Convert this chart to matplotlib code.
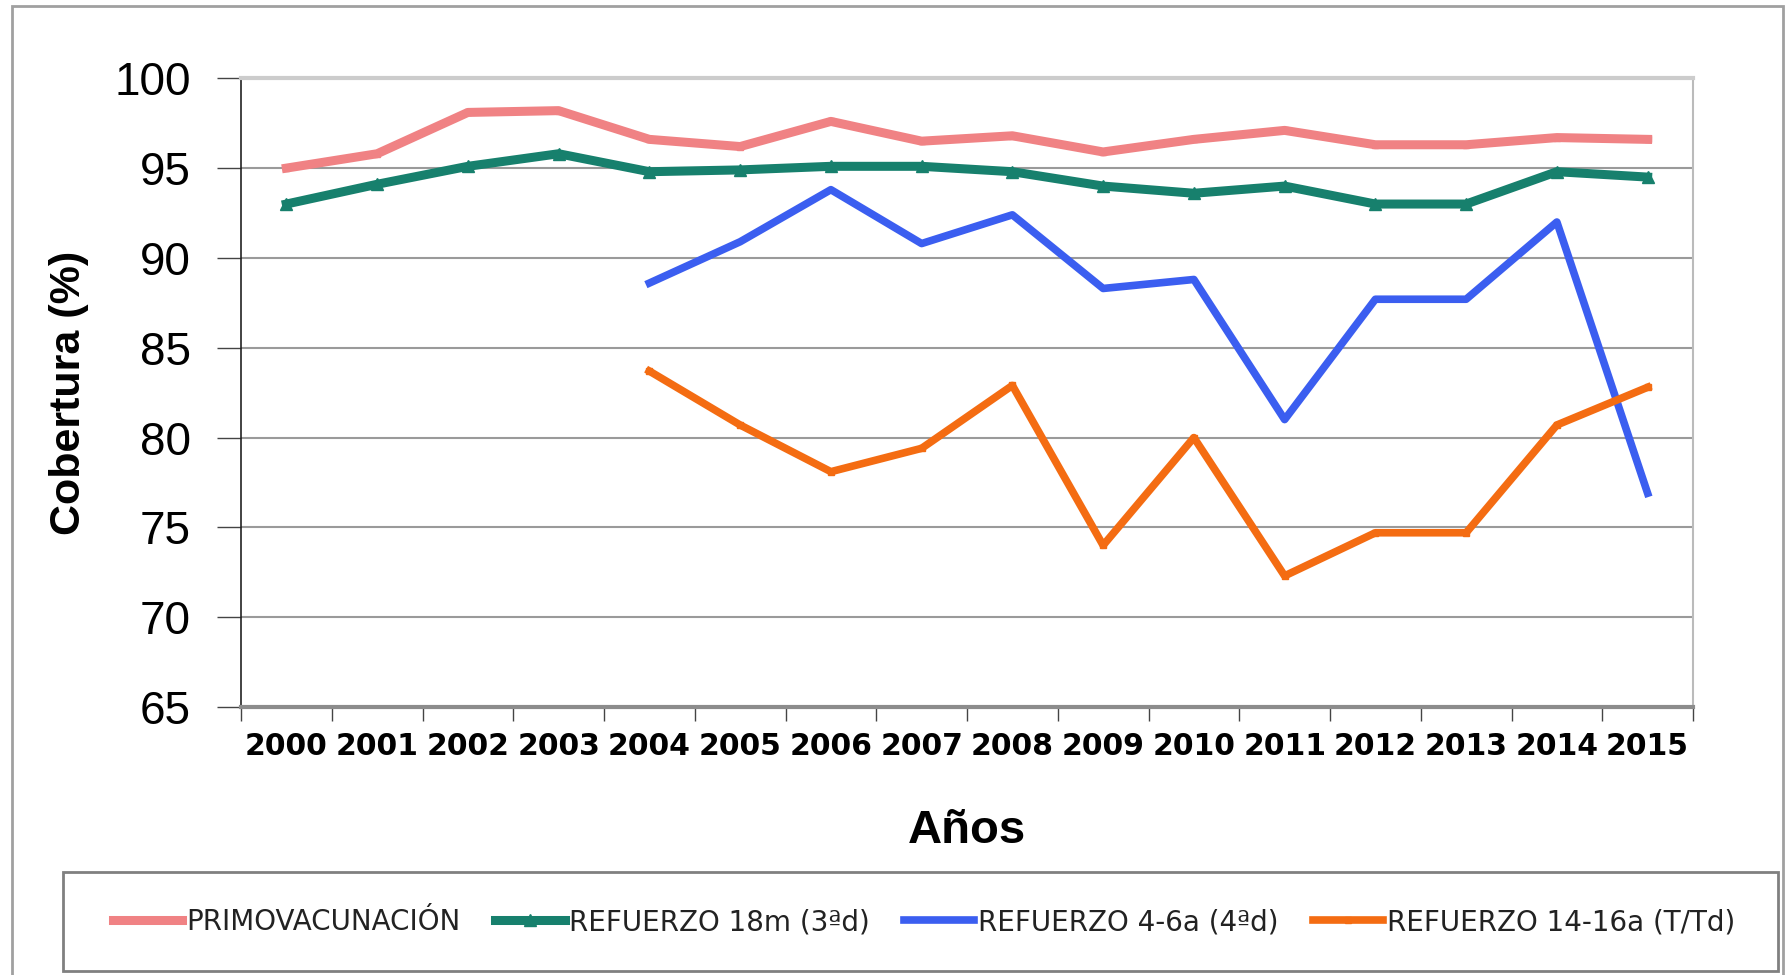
import matplotlib.pyplot as plt
from matplotlib.patches import Rectangle
import numpy as np

years = ['2000', '2001', '2002', '2003', '2004', '2005', '2006', '2007',
         '2008', '2009', '2010', '2011', '2012', '2013', '2014', '2015']
nan = np.nan
primo = [95.0, 95.8, 98.1, 98.2, 96.6, 96.2, 97.6, 96.5,
         96.8, 95.9, 96.6, 97.1, 96.3, 96.3, 96.7, 96.6]
ref18m = [93.0, 94.1, 95.1, 95.8, 94.8, 94.9, 95.1, 95.1,
          94.8, 94.0, 93.6, 94.0, 93.0, 93.0, 94.8, 94.5]
ref46a = [nan, nan, nan, nan, 88.6, 90.9, 93.8, 90.8,
          92.4, 88.3, 88.8, 81.0, 87.7, 87.7, 92.0, 76.9]
ref1416a = [nan, nan, nan, nan, 83.7, 80.7, 78.1, 79.4,
            82.9, 74.0, 80.0, 72.3, 74.7, 74.7, 80.7, 82.8]
labels = ['PRIMOVACUNACIÓN', 'REFUERZO 18m (3ªd)', 'REFUERZO 4-6a (4ªd)',
          'REFUERZO 14-16a (T/Td)']

x = np.arange(len(years))

fig = plt.figure(figsize=(17.87, 9.75), dpi=100)
ax = fig.add_axes([241 / 1787, 1 - 707 / 975, 1452 / 1787, (707 - 78.3) / 975])

ax.plot(x, primo, color='#F08284', lw=6.5, marker='s', ms=4, label=labels[0])
ax.plot(x, ref18m, color='#17806D', lw=6.5, marker='^', ms=8, label=labels[1])
ax.plot(x, ref46a, color='#3B5EF0', lw=5.5, label=labels[2])
ax.plot(x, ref1416a, color='#F46C12', lw=5.5, marker='s', ms=5, label=labels[3])

ax.set_xlim(-0.5, 15.5)
ax.set_ylim(65, 100)
ax.set_yticks(np.arange(65, 101, 5))
ax.set_xticks(x)
ax.set_xticks(np.arange(-0.5, 16, 1), minor=True)
ax.set_xticklabels(years, fontfamily='DejaVu Sans', fontweight='bold', fontsize=21.5)
ax.tick_params(axis='x', which='major', length=0, pad=18)
ax.tick_params(axis='x', which='minor', length=10, width=1, color='#444444')
ax.tick_params(axis='y', length=17, width=1, pad=19, labelsize=33, color='#444444')
for t in ax.get_yticklabels():
    t.set_fontfamily('Liberation Sans')

ax.grid(axis='y', color='#9a9a9a', lw=1.5)
ax.set_axisbelow(True)
ax.spines['top'].set_color('#cccccc')
ax.spines['top'].set_linewidth(3)
ax.spines['right'].set_color('#bbbbbb')
ax.spines['right'].set_linewidth(1.5)
ax.spines['left'].set_color('#222222')
ax.spines['left'].set_linewidth(1.2)
ax.spines['bottom'].set_color('#8c8c8c')
ax.spines['bottom'].set_linewidth(3)

ax.set_ylabel('Cobertura (%)', fontfamily='Liberation Sans', fontweight='bold', fontsize=31)
ax.yaxis.set_label_coords(-0.1045, 0.5)
ax.set_xlabel('Años', fontfamily='Liberation Sans', fontweight='bold', fontsize=34)
ax.xaxis.set_label_coords(0.5, -0.163)

# outer frame and legend box
fig.patches.append(Rectangle((12 / 1787, -0.02), (1783 - 12) / 1787, 1 - 6 / 975 + 0.02,
                             transform=fig.transFigure, fill=False,
                             edgecolor='#a0a0a0', lw=2))
fig.patches.append(Rectangle((63 / 1787, 1 - 971 / 975), (1778 - 63) / 1787, (971 - 872) / 975,
                             transform=fig.transFigure, fill=False,
                             edgecolor='#808080', lw=2))

leg = fig.legend(loc='center', bbox_to_anchor=(924 / 1787, 1 - 922 / 975), ncol=4,
                 frameon=False, prop={'family': 'DejaVu Sans', 'size': 20},
                 handlelength=2.5, handletextpad=0.15, columnspacing=1.25)
for t in leg.get_texts():
    t.set_color('#222222')

plt.savefig('out.png', dpi=100)
